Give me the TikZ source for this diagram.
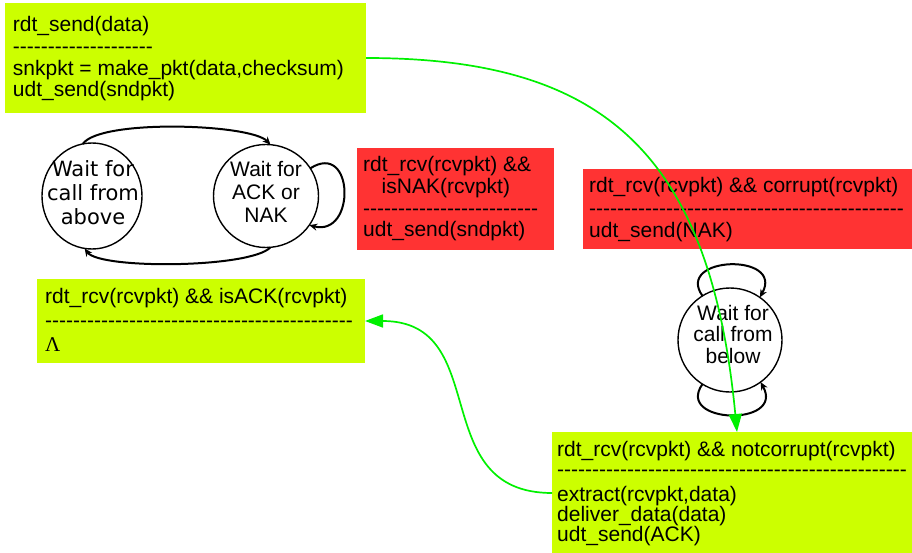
\documentclass[tikz,border=0pt]{standalone}
\usepackage{fontspec}
\setmainfont{Liberation Sans}[Ligatures=TeXOff]
\newfontfamily\dejavu{DejaVu Sans}
\newfontfamily\serifgreek{Liberation Serif}
\usetikzlibrary{shapes.geometric,arrows.meta,calc}

\definecolor{limefill}{RGB}{204,255,0}
\definecolor{redfill}{RGB}{255,51,51}
\definecolor{flowgreen}{RGB}{0,240,0}

% a row of n plain hyphens
\ExplSyntaxOn
\cs_new:Npn \dashrow #1 {\prg_replicate:nn{#1}{-}}
\ExplSyntaxOff

% stacked lines with a fixed baseline distance; the box baseline is the first line
\newcommand\leftlines[2]{\vtop{\baselineskip=#1pt\lineskiplimit=-100pt\lineskip=0pt\halign{##\hfil\cr#2\crcr}}}
\newcommand\midlines[2]{\vtop{\baselineskip=#1pt\lineskiplimit=-100pt\lineskip=0pt\halign{\hfil##\hfil\cr#2\crcr}}}

\begin{document}
\begin{tikzpicture}[x=1pt,y=-1pt,
  actionbox/.style={rectangle, inner sep=0pt, outer sep=0pt, anchor=north west},
  boxtext/.style={anchor=base west, inner sep=0pt, font=\fontsize{21}{22}\selectfont},
  statetext/.style={anchor=base, inner sep=0pt, font=\fontsize{21}{22}\selectfont},
  state/.style={ellipse, draw=black, line width=1.4pt, inner sep=0pt, outer sep=0pt},
  selfloop/.style={draw=black, line width=2pt, -{Stealth[length=8pt,width=7pt]}},
  flow/.style={draw=flowgreen, line width=1.7pt, -{Triangle[length=18pt,width=13pt]}}]

\useasboundingbox (0,0) rectangle (912,553);

% action boxes
\node[actionbox, fill=limefill, minimum width=361pt, minimum height=110pt] (send) at (5,3) {};
\node[actionbox, fill=redfill, minimum width=197pt, minimum height=102pt] (nak) at (357,148) {};
\node[actionbox, fill=redfill, minimum width=329pt, minimum height=80pt] (corrupt) at (583,169) {};
\node[actionbox, fill=limefill, minimum width=328pt, minimum height=84pt] (ack) at (37,279) {};
\node[actionbox, fill=limefill, minimum width=360pt, minimum height=122pt] (recv) at (552,432) {};

\node[boxtext] (sendtxt) at (12.7,31.7) {\leftlines{21.7}{rdt\_send(data)\cr
  \dashrow{20}\cr
  snkpkt = make\_pkt(data,checksum)\cr
  udt\_send(sndpkt)}};
\node[boxtext] (naktxt) at (363,171.7) {\leftlines{21.7}{rdt\_rcv(rcvpkt) \&\&\cr
  \hspace{18.5pt}isNAK(rcvpkt)\cr
  \dashrow{25}\cr
  udt\_send(sndpkt)}};
\node[boxtext] (corrupttxt) at (589,193) {\leftlines{22.5}{rdt\_rcv(rcvpkt) \&\& corrupt(rcvpkt)\cr
  \dashrow{45}\cr
  udt\_send(NAK)}};
\node[boxtext] (acktxt) at (45,303.3) {\leftlines{24}{rdt\_rcv(rcvpkt) \&\& isACK(rcvpkt)\cr
  \dashrow{44}\cr
  {\serifgreek Λ}}};
\node[boxtext] (recvtxt) at (557,456.7) {\leftlines{20}{rdt\_rcv(rcvpkt) \&\& notcorrupt(rcvpkt)\cr
  \dashrow{50}\cr\noalign{\kern5pt}
  extract(rcvpkt,data)\cr
  deliver\_data(data)\cr
  udt\_send(ACK)}};

% states
\node[state, minimum width=100pt, minimum height=106pt] (above) at (92,196) {};
\node[state, minimum width=105pt, minimum height=103pt] (acknak) at (266,196) {};
\node[state, minimum width=104pt, minimum height=104pt] (below) at (730,340) {};

\node[statetext, font=\dejavu\fontsize{21}{22}\selectfont] (abovetxt) at (93,176.7) {\midlines{24}{Wait for\cr call from\cr above}};
\node[statetext] (acknaktxt) at (266,176.7) {\midlines{23}{Wait for\cr ACK or\cr NAK}};
\node[statetext] (belowtxt) at (733,320) {\midlines{21.7}{Wait for\cr call from\cr below}};

% sender transitions
\draw[selfloop] (above.100) .. controls +(17,-25) and +(-20,-21) .. (acknak.85);
\draw[selfloop] (acknak.-85) .. controls +(-20,21) and +(15,21) .. (above.-98);
\draw[selfloop] (acknak.32) .. controls +(44,-28) and +(47,12) .. (acknak.-34);

% receiver self transitions
\draw[selfloop] (below.122) .. controls +(-28,-40) and +(25,-45) .. (below.55);
\draw[selfloop] (below.-122) .. controls +(-28,40) and +(25,45) .. (below.-54);

% packet flows between sender and receiver
\draw[flow] (send.east) .. controls +(235,0) and +(-27,-282) .. ([xshift=5pt]recv.north);
\draw[flow] (recv.west) .. controls +(-127,0) and +(129,0) .. (ack.east);

\end{tikzpicture}
\end{document}
